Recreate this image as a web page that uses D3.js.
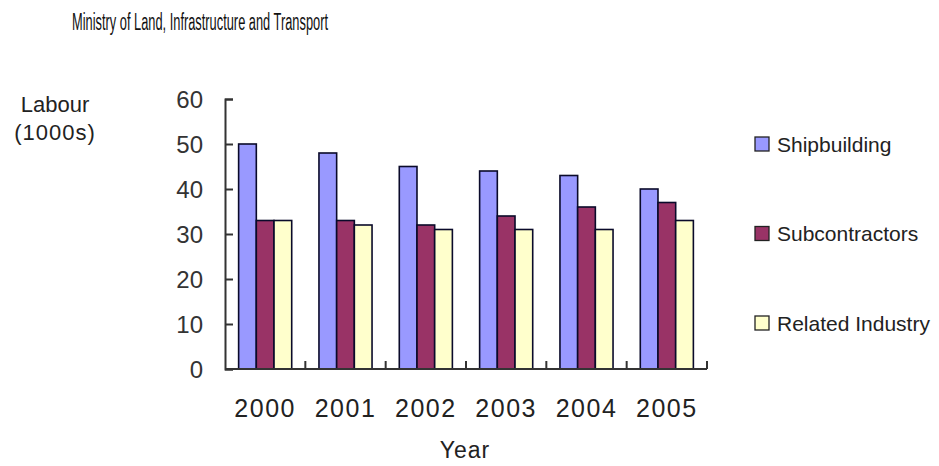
<!DOCTYPE html>
<html>
<head>
<meta charset="utf-8">
<script src="https://cdn.jsdelivr.net/npm/d3@7"></script>
<style>
  body { margin: 0; background: #fff; }
  text { font-family: "Liberation Sans", Arial, sans-serif; fill: #222; }
</style>
</head>
<body>
<div class="chart"></div>
<script>
// DATA
// ----------------------------
const years = ['2000', '2001', '2002', '2003', '2004', '2005']
const series = ['Shipbuilding', 'Subcontractors', 'Related Industry']
const shipbuilding = [50, 48, 45, 44, 43, 40]
const subcontractors = [33, 33, 32, 34, 36, 37]
const related = [33, 32, 31, 31, 31, 33]
const yTicks = [0, 10, 20, 30, 40, 50, 60]
const colors = ['#9999ff', '#993366', '#ffffcc']

const values = [shipbuilding, subcontractors, related]
const data = years.map((y, i) => ({ year: y, vals: series.map((s, j) => ({ key: s, value: values[j][i] })) }))

// SETUP
// ----------------------------
const fullWidth = 939
const fullHeight = 466
const margin = { top: 99, left: 225 }
const width = 482
const height = 270

const svg = d3.select('.chart')
  .append('svg')
    .attr('width', fullWidth)
    .attr('height', fullHeight)

const g = svg.append('g')
    .attr('transform', `translate(${margin.left}, ${margin.top})`)

// scales
const x = d3.scaleBand().domain(years).range([0, width]).padding(0)
const xInner = d3.scaleBand().domain(series).range([0, x.bandwidth()])
  .paddingInner(0).paddingOuter(0.77)
const y = d3.scaleLinear().domain([0, 60]).range([height, 0])
const color = d3.scaleOrdinal().domain(series).range(colors)

// bars
g.selectAll('.year')
  .data(data)
  .enter()
  .append('g')
    .attr('class', 'year')
    .attr('transform', d => `translate(${x(d.year)}, 0)`)
  .selectAll('rect')
  .data(d => d.vals)
  .enter()
  .append('rect')
    .attr('x', d => xInner(d.key))
    .attr('y', d => y(d.value))
    .attr('width', xInner.bandwidth())
    .attr('height', d => height - y(d.value))
    .style('fill', d => color(d.key))
    .style('stroke', '#0a0a2a')
    .style('stroke-width', 1.6)

// Y axis (ticks point inward)
const yAxis = d3.axisLeft(y).tickValues(yTicks).tickSize(-8).tickPadding(22)
const yg = g.append('g').call(yAxis)
yg.select('.domain').attr('stroke', '#333').attr('stroke-width', 2)
yg.selectAll('.tick line').attr('stroke', '#333').attr('stroke-width', 2)
yg.selectAll('.tick text')
  .style('font-size', '24px')
  .style('fill', '#333')
  .attr('dy', '0.36em')

// X axis labels
const xAxis = d3.axisBottom(x).tickSize(0).tickPadding(30)
const xg = g.append('g').attr('transform', `translate(0, ${height})`).call(xAxis)
xg.select('.domain').remove()
xg.selectAll('.tick text')
  .style('font-size', '25px')
  .style('letter-spacing', '1.5px')
  .style('fill', '#222')

// X axis line + category boundary ticks
g.append('line')
  .attr('x1', 0).attr('x2', width)
  .attr('y1', height).attr('y2', height)
  .attr('stroke', '#333').attr('stroke-width', 2)
g.selectAll('.xtick')
  .data(years)
  .enter()
  .append('line')
    .attr('class', 'xtick')
    .attr('x1', d => x(d) + x.step()).attr('x2', d => x(d) + x.step())
    .attr('y1', height).attr('y2', height - 8)
    .attr('stroke', '#333').attr('stroke-width', 2)

// axis titles
svg.append('text')
  .attr('x', 55).attr('y', 112)
  .attr('text-anchor', 'middle')
  .style('font-size', '22px')
  .text('Labour')
svg.append('text')
  .attr('x', 55).attr('y', 140)
  .attr('text-anchor', 'middle')
  .style('font-size', '22px')
  .style('letter-spacing', '1px')
  .text('(1000s)')
svg.append('text')
  .attr('x', margin.left + width / 2 - 1).attr('y', 458)
  .attr('text-anchor', 'middle')
  .style('font-size', '23px')
  .style('letter-spacing', '1px')
  .text('Year')

// source line (condensed to fit like the original)
svg.append('text')
  .attr('x', 72).attr('y', 30)
  .attr('textLength', 256)
  .attr('lengthAdjust', 'spacingAndGlyphs')
  .style('font-size', '23px')
  .style('fill', '#111')
  .text('Ministry of Land, Infrastructure and Transport')

// legend
const legend = svg.selectAll('.legend')
  .data(series)
  .enter()
  .append('g')
    .attr('class', 'legend')
    .attr('transform', (d, i) => `translate(755, ${144 + i * 89.5})`)
legend.append('rect')
  .attr('x', 0).attr('y', -7)
  .attr('width', 14).attr('height', 14)
  .style('fill', d => color(d))
  .style('stroke', '#222')
  .style('stroke-width', 1.3)
legend.append('text')
  .attr('x', 22).attr('y', 0)
  .attr('dy', '0.36em')
  .style('font-size', '21px')
  .text(d => d)
</script>
</body>
</html>
